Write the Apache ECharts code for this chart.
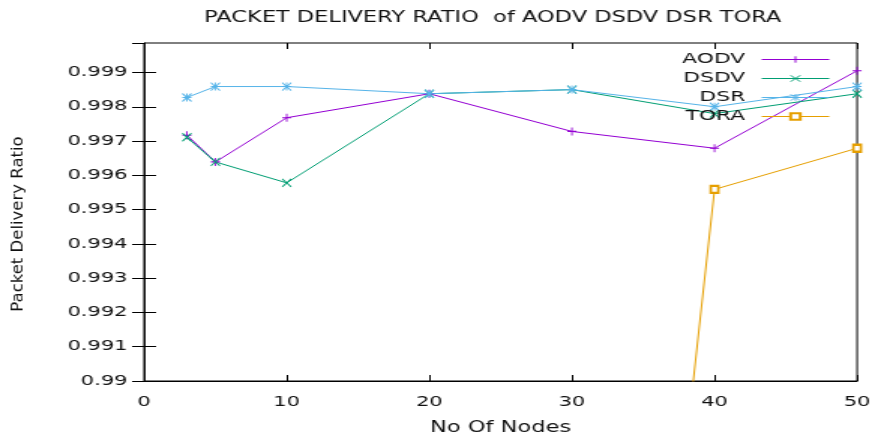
<!DOCTYPE html>
<html>
<head>
<meta charset="utf-8">
<script src="https://cdn.jsdelivr.net/npm/echarts@6/dist/echarts.min.js"></script>
<style>
html,body{margin:0;padding:0;background:#fff;}
#wrap{width:875px;height:441px;overflow:hidden;position:relative;background:#fff;}
#chart{width:583px;height:441px;transform-origin:0 0;transform:scaleX(1.500858);}
</style>
</head>
<body>
<div id="wrap"><div id="chart"></div></div>
<script>
// ---- data ----
const nodes = [3, 5, 10, 20, 30, 40, 50];
const aodv = [0.99717, 0.99639, 0.99768, 0.99838, 0.99728, 0.99679, 0.99905];
const dsdv = [0.99711, 0.99639, 0.99578, 0.99838, 0.9985, 0.99780, 0.99838];
const dsr  = [0.99827, 0.99859, 0.99859, 0.99838, 0.9985, 0.99800, 0.99859];
const tora = [null, null, null, null, 0.95807, 0.99559, 0.99679];
const seriesNames = ['AODV', 'DSDV', 'DSR', 'TORA'];
const xTickLabels = ['0', '10', '20', '30', '40', '50'];
const yTickLabels = ['0.99', '0.991', '0.992', '0.993', '0.994', '0.995', '0.996', '0.997', '0.998', '0.999'];

const FONT = 'DejaVu Sans';
const TXT = '#111';
const colors = ['#9400d3', '#009e73', '#56b4e9', '#e69f00'];
const symbols = [
  'path://M0,5L10,5M5,0L5,10',
  'path://M0,0L10,10M0,10L10,0',
  'path://M0,5L10,5M5,0L5,10M0,0L10,10M0,10L10,0',
  'emptyRect'
];
const allData = [aodv, dsdv, dsr, tora];

const series = seriesNames.map((name, i) => ({
  name: name,
  type: 'line',
  data: nodes.map((x, k) => [x, allData[i][k]]),
  symbol: symbols[i],
  symbolSize: i === 3 ? [5, 7] : [6, 8],
  symbolKeepAspect: false,
  clip: true,
  lineStyle: { color: colors[i], width: 1 },
  itemStyle: { color: colors[i], borderColor: colors[i], borderWidth: 1 },
  emphasis: { disabled: true }
}));

const chart = echarts.init(document.getElementById('chart'), null, { renderer: 'canvas' });
chart.setOption({
  animation: false,
  backgroundColor: '#fff',
  title: {
    text: 'PACKET DELIVERY RATIO  of AODV DSDV DSR TORA',
    left: 136,
    top: 11,
    padding: 0,
    textStyle: { fontFamily: FONT, fontSize: 15, fontWeight: 'normal', color: TXT }
  },
  legend: {
    data: seriesNames,
    orient: 'vertical',
    align: 'right',
    right: 30,
    top: 52,
    padding: 0,
    itemWidth: 45,
    itemHeight: 8,
    itemGap: 4,
    itemStyle: { borderWidth: 1 },
    lineStyle: { width: 1 },
    textStyle: { fontFamily: FONT, fontSize: 14.5, color: TXT, lineHeight: 14, padding: [0, 6, 0, 0] }
  },
  grid: { left: 96, right: 11, top: 43, bottom: 54, show: true, borderColor: '#000', borderWidth: 1, backgroundColor: 'transparent' },
  xAxis: [{
    type: 'value', min: 0, max: 50, interval: 10,
    name: 'No Of Nodes', nameLocation: 'middle', nameGap: 40,
    nameTextStyle: { fontFamily: FONT, fontSize: 15, color: TXT },
    axisLine: { show: true, lineStyle: { color: '#000', width: 1 } },
    axisTick: { show: true, inside: true, length: 6, lineStyle: { color: '#000' } },
    axisLabel: { fontFamily: FONT, fontSize: 14, color: TXT, margin: 14,
      formatter: v => xTickLabels[Math.round(v / 10)] },
    splitLine: { show: false }
  }, {
    type: 'value', min: 0, max: 50, interval: 10, position: 'top',
    axisLine: { show: false },
    axisTick: { show: true, inside: true, length: 6, lineStyle: { color: '#000' } },
    axisLabel: { show: false }, splitLine: { show: false }
  }],
  yAxis: [{
    type: 'value', min: 0.99, max: 0.99986, interval: 0.001,
    axisLine: { show: true, lineStyle: { color: '#000', width: 1 } },
    axisTick: { show: true, inside: true, length: 8, lineStyle: { color: '#000' } },
    axisLabel: { fontFamily: FONT, fontSize: 14, color: TXT, margin: 11, showMaxLabel: false,
      formatter: v => { const k = Math.round((v - 0.99) / 0.001); return yTickLabels[k] !== undefined ? yTickLabels[k] : ''; } },
    splitLine: { show: false }
  }, {
    type: 'value', min: 0.99, max: 0.99986, interval: 0.001, position: 'right',
    axisLine: { show: false },
    axisTick: { show: true, inside: true, length: 8, lineStyle: { color: '#000' } },
    axisLabel: { show: false }, splitLine: { show: false }
  }],
  graphic: [{
    type: 'text',
    x: 12.3, y: 224,
    rotation: Math.PI / 2,
    scaleY: 0.6,
    style: { text: 'Packet Delivery Ratio', fontFamily: FONT, fontSize: 16.5, fill: TXT, textAlign: 'center', textVerticalAlign: 'middle' }
  }],
  series: series
});
</script>
</body>
</html>
